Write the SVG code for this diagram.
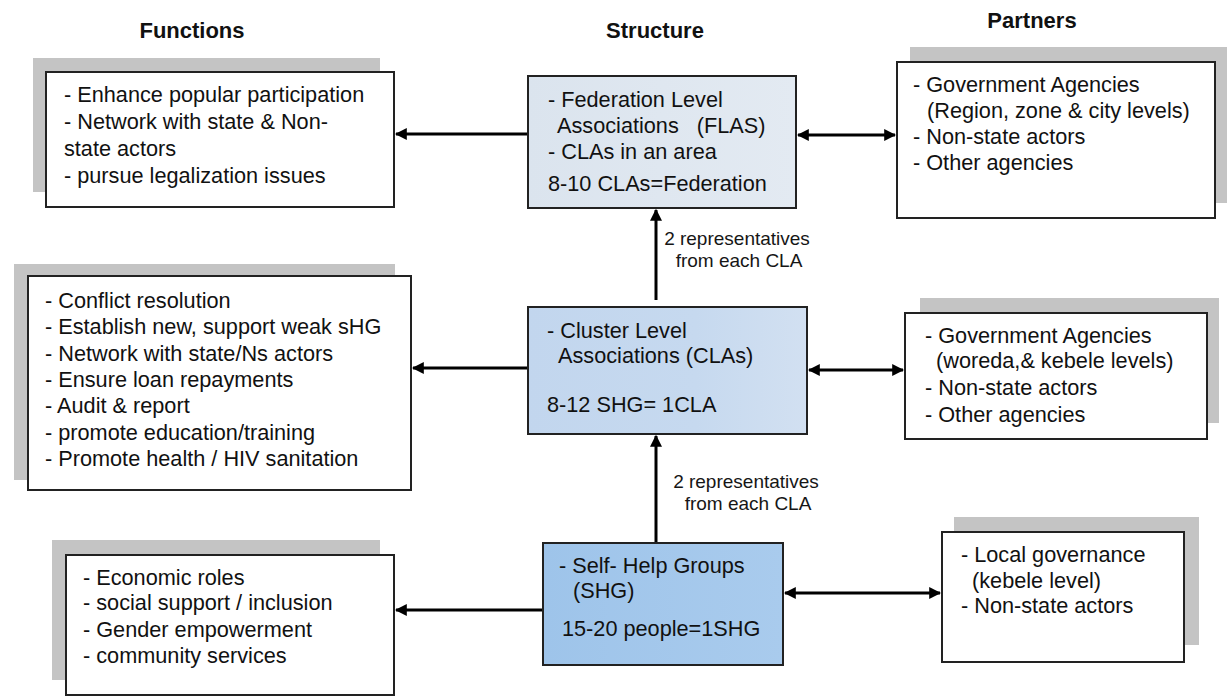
<svg xmlns="http://www.w3.org/2000/svg" width="1227" height="696" viewBox="0 0 1227 696">
<defs>
<style>
.t{font-family:"Liberation Sans",Arial,sans-serif;font-size:21.7px;fill:#111}
.h{font-family:"Liberation Sans",Arial,sans-serif;font-size:22px;font-weight:bold;fill:#111;text-anchor:middle}
.lbl{font-family:"Liberation Sans",Arial,sans-serif;font-size:19px;fill:#161616;text-anchor:middle}
.box{fill:#fff;stroke:#222;stroke-width:2}
.sh{fill:#c4c4c4}
.ln{stroke:#000;stroke-width:3;fill:none}
</style>
<marker id="ah" viewBox="0 0 10 10" refX="9" refY="5" markerWidth="4" markerHeight="4" orient="auto-start-reverse" markerUnits="strokeWidth">
<path d="M0,0 L10,5 L0,10 z" fill="#000"/>
</marker>
<linearGradient id="g1" x1="0" y1="0" x2="1" y2="0"><stop offset="0" stop-color="#dbe4ee"/><stop offset="1" stop-color="#e3eaf2"/></linearGradient>
<linearGradient id="g2" x1="0" y1="0" x2="1" y2="0"><stop offset="0" stop-color="#c2d6ee"/><stop offset="0.6" stop-color="#c6d9ef"/><stop offset="1" stop-color="#d2e0f1"/></linearGradient>
<linearGradient id="g3" x1="0" y1="0" x2="1" y2="0"><stop offset="0" stop-color="#9ec4ea"/><stop offset="1" stop-color="#a9cbed"/></linearGradient>
</defs>
<rect width="1227" height="696" fill="#fff"/>

<g id="headers">
<text class="h" x="192" y="38">Functions</text>
<text class="h" x="655" y="38">Structure</text>
<text class="h" x="1032" y="28">Partners</text>
</g>

<g id="connectors">
<line class="ln" x1="528" y1="134" x2="396" y2="134" marker-end="url(#ah)"/>
<line class="ln" x1="798" y1="135" x2="895" y2="135" marker-start="url(#ah)" marker-end="url(#ah)"/>
<line class="ln" x1="528" y1="368" x2="413" y2="368" marker-end="url(#ah)"/>
<line class="ln" x1="809" y1="370" x2="903" y2="370" marker-start="url(#ah)" marker-end="url(#ah)"/>
<line class="ln" x1="543" y1="610" x2="396" y2="610" marker-end="url(#ah)"/>
<line class="ln" x1="785" y1="593" x2="940" y2="593" marker-start="url(#ah)" marker-end="url(#ah)"/>
<line class="ln" x1="656" y1="300" x2="656" y2="210" marker-end="url(#ah)"/>
<line class="ln" x1="656" y1="542" x2="656" y2="436" marker-end="url(#ah)"/>
<text class="lbl" x="737" y="245">2 representatives</text>
<text class="lbl" x="739" y="267">from each CLA</text>
<text class="lbl" x="746" y="488">2 representatives</text>
<text class="lbl" x="748" y="510">from each CLA</text>
</g>

<g id="func-fed">
<rect class="sh" x="33" y="58" width="347" height="134"/>
<rect class="box" x="46" y="72" width="348" height="135"/>
<text class="t" x="64" y="102">- Enhance popular participation</text>
<text class="t" x="64" y="129">- Network with state &amp; Non-</text>
<text class="t" x="64" y="156">state actors</text>
<text class="t" x="64" y="183">- pursue legalization issues</text>
</g>

<g id="fed">
<rect x="528" y="76" width="268" height="132" fill="url(#g1)" stroke="#222" stroke-width="2"/>
<text class="t" x="548" y="107">- Federation Level</text>
<text class="t" x="557" y="133" xml:space="preserve">Associations   (FLAS)</text>
<text class="t" x="548" y="159">- CLAs in an area</text>
<text class="t" x="548" y="191">8-10 CLAs=Federation</text>
</g>

<g id="partners-fed">
<rect class="sh" x="910" y="47" width="317" height="156"/>
<rect class="box" x="897" y="62" width="318" height="156"/>
<text class="t" x="913" y="92">- Government Agencies</text>
<text class="t" x="927" y="118">(Region, zone &amp; city levels)</text>
<text class="t" x="913" y="144">- Non-state actors</text>
<text class="t" x="913" y="170">- Other agencies</text>
</g>

<g id="func-cla">
<rect class="sh" x="14" y="264" width="381" height="216"/>
<rect class="box" x="28" y="276" width="383" height="214"/>
<text class="t" x="45" y="308">- Conflict resolution</text>
<text class="t" x="45" y="334">- Establish new, support weak sHG</text>
<text class="t" x="45" y="361">- Network with state/Ns actors</text>
<text class="t" x="45" y="387">- Ensure loan repayments</text>
<text class="t" x="45" y="413">- Audit &amp; report</text>
<text class="t" x="45" y="440">- promote education/training</text>
<text class="t" x="45" y="466">- Promote health / HIV sanitation</text>
</g>

<g id="cla">
<rect x="528" y="307" width="279" height="127" fill="url(#g2)" stroke="#222" stroke-width="2"/>
<text class="t" x="547" y="338">- Cluster Level</text>
<text class="t" x="558" y="363">Associations (CLAs)</text>
<text class="t" x="547" y="412">8-12 SHG= 1CLA</text>
</g>

<g id="partners-cla">
<rect class="sh" x="920" y="298" width="299" height="125"/>
<rect class="box" x="905" y="313" width="302" height="126"/>
<text class="t" x="925" y="343">- Government Agencies</text>
<text class="t" x="936" y="368">(woreda,&amp; kebele levels)</text>
<text class="t" x="925" y="395">- Non-state actors</text>
<text class="t" x="925" y="422">- Other agencies</text>
</g>

<g id="func-shg">
<rect class="sh" x="52" y="540" width="328" height="140"/>
<rect class="box" x="66" y="555" width="328" height="140"/>
<text class="t" x="83" y="585">- Economic roles</text>
<text class="t" x="83" y="610">- social support / inclusion</text>
<text class="t" x="83" y="637">- Gender empowerment</text>
<text class="t" x="83" y="663">- community services</text>
</g>

<g id="shg">
<rect x="543" y="543" width="240" height="122" fill="url(#g3)" stroke="#222" stroke-width="2"/>
<text class="t" x="559" y="573">- Self- Help Groups</text>
<text class="t" x="573" y="598">(SHG)</text>
<text class="t" x="562" y="636">15-20 people=1SHG</text>
</g>

<g id="partners-shg">
<rect class="sh" x="954" y="517" width="245" height="128"/>
<rect class="box" x="942" y="532" width="242" height="130"/>
<text class="t" x="961" y="562">- Local governance</text>
<text class="t" x="972" y="588">(kebele level)</text>
<text class="t" x="961" y="613">- Non-state actors</text>
</g>
</svg>
